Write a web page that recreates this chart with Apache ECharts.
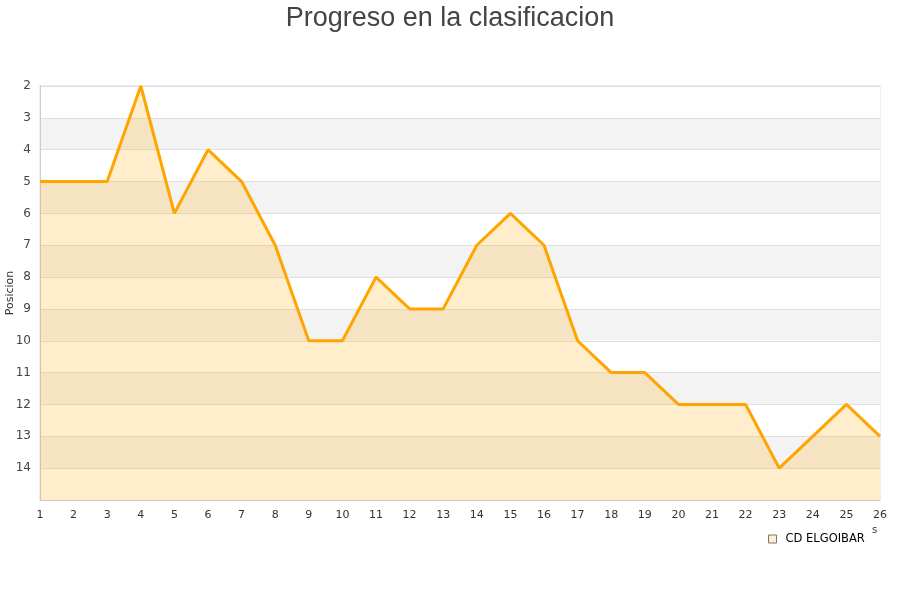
<!DOCTYPE html>
<html><head><meta charset="utf-8">
<script src="https://cdn.jsdelivr.net/npm/echarts@6/dist/echarts.min.js"></script>
<style>html,body{margin:0;padding:0;background:#fff}#c{width:900px;height:600px}</style>
</head><body><div id="c"></div>
<script>
var jornadas = ['1','2','3','4','5','6','7','8','9','10','11','12','13','14','15','16','17','18','19','20','21','22','23','24','25','26'];
var posiciones = [5,5,5,2,6,4,5,7,10,10,8,9,9,7,6,7,10,11,11,12,12,12,14,13,12,13];
var seriesName = 'CD ELGOIBAR';
var titleText = 'Progreso en la clasificacion';
var yName = 'Posicion';

var chart = echarts.init(document.getElementById('c'));
chart.setOption({
  animation: false,
  title: {
    text: titleText, left: 'center', top: 0,
    textStyle: {fontFamily: 'Liberation Sans', fontSize: 27, fontWeight: 'normal', color: '#444'}
  },
  legend: {
    data: [{name: seriesName, icon: 'rect'}],
    left: 763, top: 528,
    itemWidth: 8, itemHeight: 8, itemGap: 10,
    itemStyle: {color: '#ffedcc', borderColor: '#777', borderWidth: 1},
    textStyle: {fontFamily: 'DejaVu Sans', fontSize: 11.5, color: '#000', padding: [0, 0, 0, 4]}
  },
  graphic: [
    {type: 'text', left: 872, top: 525, style: {text: 's', fontFamily: 'DejaVu Sans', fontSize: 10, fill: '#333'}}
  ],
  grid: {left: 40, right: 20, top: 86, bottom: 100, show: true, borderColor: '#ddd', borderWidth: 1, outerBoundsMode: 'none', containLabel: false},
  xAxis: {
    type: 'category', data: jornadas, boundaryGap: false,
    axisLine: {lineStyle: {color: '#ccc'}},
    axisTick: {show: false},
    axisLabel: {fontFamily: 'DejaVu Sans', fontSize: 11, color: '#333', margin: 10, interval: 0}
  },
  yAxis: {
    type: 'value', inverse: true, min: 2, max: 15, interval: 1,
    name: yName, nameLocation: 'middle', nameGap: 24, nameRotate: 90, nameMoveOverlap: false,
    nameTextStyle: {fontFamily: 'DejaVu Sans', fontSize: 11, color: '#333'},
    axisLine: {show: true, lineStyle: {color: '#ccc'}},
    axisTick: {show: false},
    axisLabel: {fontFamily: 'DejaVu Sans', fontSize: 12, color: '#444', margin: 9,
      formatter: function(v){ return v >= 15 ? '' : String(v); }},
    splitLine: {show: true, lineStyle: {color: '#e0e0e0'}},
    splitArea: {show: true, areaStyle: {color: ['#ffffff', '#f3f3f3']}}
  },
  series: [{
    name: seriesName, type: 'line', data: posiciones,
    symbol: 'none',
    lineStyle: {color: '#ffa500', width: 3},
    itemStyle: {color: '#ffa500'},
    areaStyle: {color: 'rgba(255,165,0,0.2)', opacity: 1, origin: 'end'}
  }]
});
</script></body></html>
